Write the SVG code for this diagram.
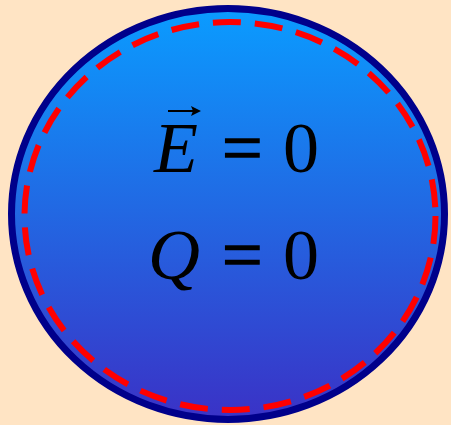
<svg xmlns="http://www.w3.org/2000/svg" width="451" height="425" viewBox="0 0 451 425">
  <defs>
    <linearGradient id="fill" x1="0" y1="0" x2="0" y2="1">
      <stop offset="0" stop-color="#0A9CFF"/>
      <stop offset="1" stop-color="#3A32C6"/>
    </linearGradient>
    <style>
      .math { font-family: "Liberation Serif", "Times New Roman", serif; font-size: 72px; fill: #000; }
      .it { font-style: italic; }
      .eq { stroke: #000; stroke-width: 1.3; }
    </style>
  </defs>
  <rect width="451" height="425" fill="#FFE4C4"/>
  <g id="sphere">
    <ellipse cx="228" cy="214" rx="216.5" ry="205.5" fill="url(#fill)" stroke="#00008B" stroke-width="7"/>
  </g>
  <g id="gauss-surface">
    <ellipse cx="230" cy="216" rx="205.5" ry="194" fill="none" stroke="#FF0000" stroke-width="6" stroke-dasharray="28 14"/>
  </g>
  <g id="label-E">
    <text class="math it" x="154" y="172">E</text>
    <path d="M168 111 H196" stroke="#000" stroke-width="2" fill="none"/>
    <path d="M201 111 L191 106 L193 111 L191 116 Z" fill="#000"/>
    <text class="math eq" x="222" y="172">=</text>
    <text class="math" x="283" y="172">0</text>
  </g>
  <g id="label-Q">
    <text class="math it" x="148" y="279">Q</text>
    <text class="math eq" x="222" y="279">=</text>
    <text class="math" x="283" y="279">0</text>
  </g>
</svg>
